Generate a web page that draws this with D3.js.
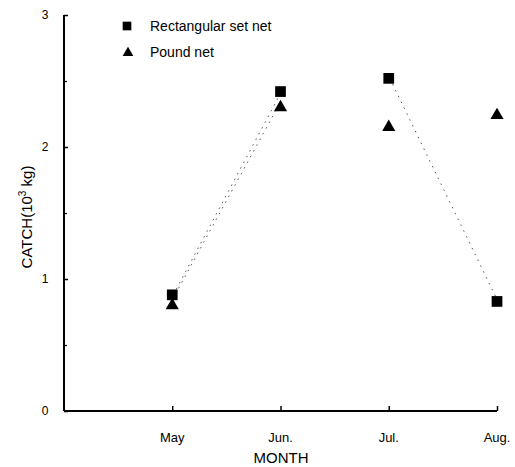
<!DOCTYPE html>
<html><head><meta charset="utf-8">
<script src="https://cdn.jsdelivr.net/npm/d3@7"></script>
<style>body{margin:0;background:#fff}text{font-family:"Liberation Sans",Arial,sans-serif;fill:#000}</style>
</head><body>
<svg id="c" width="515" height="467"></svg>
<script>
const months = ["May", "Jun.", "Jul.", "Aug."];
const rectNet = [0.88, 2.42, 2.52, 0.83];
const poundNet = [0.80, 2.30, 2.15, 2.24];
const yTicks = [0, 1, 2, 3];
const yMinorTicks = [0.5, 1.5, 2.5];
// dotted segments as [fromIndex, toIndex]
const rectSegments = [[0, 1], [2, 3]];
const poundSegments = [[0, 1]];
const legendLabels = ["Rectangular set net", "Pound net"];

const svg = d3.select("#c");
const x = d3.scaleLinear().domain([0, 4]).range([64, 497]);
const y = d3.scaleLinear().domain([0, 3]).range([411, 15]);

// axes
const yAxis = d3.axisRight(y).tickValues(yTicks).tickSize(4).tickFormat("");
const gy = svg.append("g").attr("transform", "translate(64,0)").call(yAxis);
gy.select(".domain").attr("d", `M0,${y(3)}V${y(0)}`).attr("stroke", "#000").attr("stroke-width", 2);
gy.selectAll(".tick line").attr("stroke-width", 1.5);
svg.append("g").attr("transform", "translate(64,0)")
  .call(d3.axisRight(y).tickValues(yMinorTicks).tickSize(3).tickFormat(""))
  .call(g => g.select(".domain").remove())
  .selectAll(".tick line").attr("stroke-width", 1.2);
svg.append("g").selectAll("text").data(yTicks).join("text")
  .attr("x", 45).attr("y", d => y(d) + 4).attr("text-anchor", "middle")
  .attr("font-size", 12).text(d => d);

const xAxis = d3.axisTop(x).tickValues([1, 2, 3, 4]).tickSize(5).tickFormat("");
const gx = svg.append("g").attr("transform", "translate(0,411)").call(xAxis);
gx.select(".domain").attr("d", `M${x(0)},0H${x(4)}`).attr("stroke", "#000").attr("stroke-width", 2);
gx.selectAll(".tick line").attr("stroke-width", 1.5);
svg.append("g").selectAll("text").data(months).join("text")
  .attr("x", (d, i) => x(i + 1)).attr("y", 442).attr("text-anchor", "middle")
  .attr("font-size", 13).text(d => d);

svg.append("text").attr("x", 281).attr("y", 463).attr("text-anchor", "middle")
  .attr("font-size", 15).text("MONTH");
const yl = svg.append("text").attr("transform", "translate(32,217) rotate(-90)")
  .attr("text-anchor", "middle").attr("font-size", 15);
yl.append("tspan").text("CATCH(10");
yl.append("tspan").attr("font-size", 10).attr("dy", -6).text("3");
yl.append("tspan").attr("dy", 6).text(" kg)");

// dotted lines
function segs(vals, list, dx) {
  svg.append("g").selectAll("line").data(list).join("line")
    .attr("x1", d => x(d[0] + 1) + dx).attr("y1", d => y(vals[d[0]]))
    .attr("x2", d => x(d[1] + 1) + dx).attr("y2", d => y(vals[d[1]]))
    .attr("stroke", "#555").attr("stroke-width", 1).attr("stroke-dasharray", "1.5,5");
}
segs(rectNet, rectSegments, 1);
segs(poundNet, poundSegments, -3);

const sq = d3.symbol().type(d3.symbolSquare).size(115);
const tri = d3.symbol().type(d3.symbolTriangle).size(75);
svg.append("g").selectAll("path").data(rectNet).join("path")
  .attr("transform", (d, i) => `translate(${x(i + 1)},${y(d)})`).attr("d", sq).attr("fill", "#000");
svg.append("g").selectAll("path").data(poundNet).join("path")
  .attr("transform", (d, i) => `translate(${x(i + 1)},${y(d)})`).attr("d", tri).attr("fill", "#000");

// legend
svg.append("path").attr("transform", "translate(127,26)").attr("d", d3.symbol().type(d3.symbolSquare).size(75)).attr("fill", "#000");
svg.append("path").attr("transform", "translate(128,53)").attr("d", d3.symbol().type(d3.symbolTriangle).size(50)).attr("fill", "#000");
svg.append("g").selectAll("text").data(legendLabels).join("text")
  .attr("x", 150).attr("y", (d, i) => 31 + i * 26).attr("font-size", 14).text(d => d);
</script>
</body></html>
